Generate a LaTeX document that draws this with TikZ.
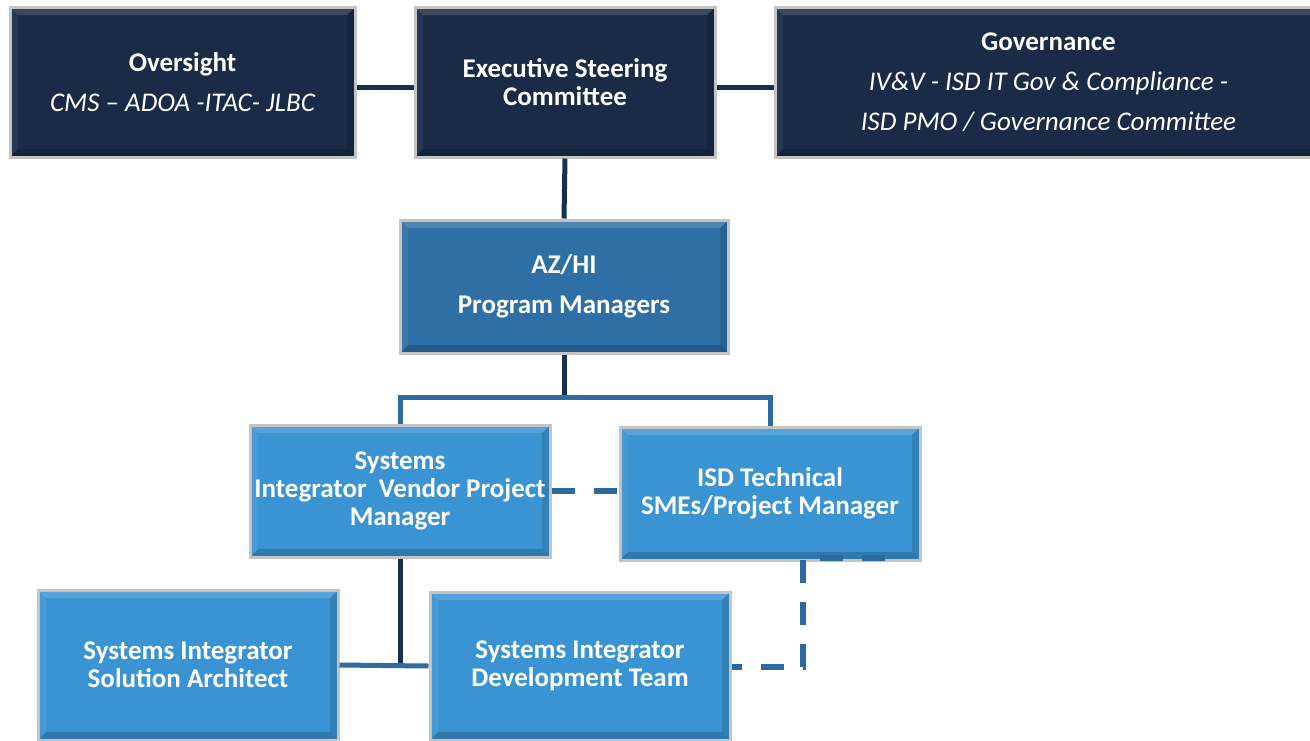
\documentclass[tikz,border=0pt]{standalone}
\usepackage{fontspec}
\setmainfont{Carlito}
\definecolor{navy}{HTML}{1A2B47}
\definecolor{midblue}{HTML}{2E6FA5}
\definecolor{lightblue}{HTML}{3A94D4}
\definecolor{rim}{HTML}{C4C4C4}
\definecolor{linkdark}{HTML}{17304F}
\definecolor{linkblue}{HTML}{2D6CA0}
\definecolor{dashblue}{HTML}{2A6A9E}
\tikzset{
  bevel/.style={path picture={
    \path (path picture bounding box.north west) coordinate (pp1)
          (path picture bounding box.south east) coordinate (pp2);
    \fill[white,opacity=0.14] (pp1) -- (pp1 -| pp2) -- ([shift={(-8pt,-8pt)}]pp1 -| pp2) -- ([shift={(8pt,-8pt)}]pp1) -- cycle;
    \fill[white,opacity=0.06] (pp1) -- (pp1 |- pp2) -- ([shift={(8pt,8pt)}]pp1 |- pp2) -- ([shift={(8pt,-8pt)}]pp1) -- cycle;
    \fill[black,opacity=0.18] (pp1 |- pp2) -- (pp2) -- ([shift={(-8pt,8pt)}]pp2) -- ([shift={(8pt,8pt)}]pp1 |- pp2) -- cycle;
    \fill[black,opacity=0.12] (pp2) -- (pp1 -| pp2) -- ([shift={(-8pt,-8pt)}]pp1 -| pp2) -- ([shift={(-8pt,8pt)}]pp2) -- cycle;
  }},
  box/.style={rectangle, draw=rim, line width=3pt, inner sep=0pt, text=white,
    align=center, minimum width=300pt, minimum height=133pt, bevel,
    font=\fontsize{27}{28}\selectfont\bfseries},
  wide/.style={font=\fontsize{27}{40}\selectfont\bfseries},
  link/.style={line width=5pt, draw=linkdark},
  linkb/.style={line width=5pt, draw=linkblue},
  dlink/.style={line width=6pt, draw=dashblue, dash pattern=on 23pt off 19pt},
}
\begin{document}
\begin{tikzpicture}[x=1pt,y=-1pt]
\useasboundingbox[fill=white] (0,0) rectangle (1310,740);
% boxes
\node[box, wide, fill=navy, minimum width=345pt, minimum height=150pt] (over) at (182.5,82)
  {Oversight\\ \mdseries\itshape CMS – ADOA -ITAC- JLBC};
\node[box, fill=navy, minimum height=150pt] (exec) at (565,82)
  {Executive Steering\\Committee};
\node[box, wide, fill=navy, minimum width=547pt, minimum height=150pt] (gov) at (1048.5,82)
  {Governance\\ \mdseries\itshape IV\&V - ISD IT Gov \& Compliance -\\ \mdseries\itshape ISD PMO / Governance Committee};
\node[box, wide, fill=midblue, minimum width=328pt] (azhi) at (564,286.5)
  {AZ/HI\\Program Managers};
\node[box, fill=lightblue, minimum height=132pt] (sivpm) at (400,491)
  {Systems\\Integrator~ Vendor Project\\Manager};
\node[box, fill=lightblue] (isd) at (770,493.5)
  {ISD Technical\\SMEs/Project Manager};
\node[box, fill=lightblue, minimum height=150pt] (sisa) at (188,665)
  {Systems Integrator\\Solution Architect};
\node[box, fill=lightblue, minimum height=148pt] (sidt) at (580,666)
  {Systems Integrator\\Development Team};
% solid connectors
\draw[link] ([yshift=-5pt]over.east) -- ([yshift=-5pt]exec.west);
\draw[link] ([yshift=-5pt]exec.east) -- ([yshift=-5pt]gov.west);
\draw[link] (exec.south) -- (azhi.north);
\coordinate (split) at (564,397);
\draw[link] (azhi.south) -- (split);
\draw[linkb] (sivpm.north) |- (split) -| (isd.north);
\coordinate (j) at (sivpm.south |- sisa.east);
\draw[link] (sivpm.south) -- (j);
\draw[linkb] (sisa.east) -- (sidt.west);
% dashed connectors
\draw[dlink] (sivpm.east) -- (isd.west |- sivpm.east);
\coordinate (isdtail) at (885,558);
\draw[dlink] (isdtail) -- (803,558) -- (803,667) -- (sidt.east |- 0,667);
\end{tikzpicture}
\end{document}
